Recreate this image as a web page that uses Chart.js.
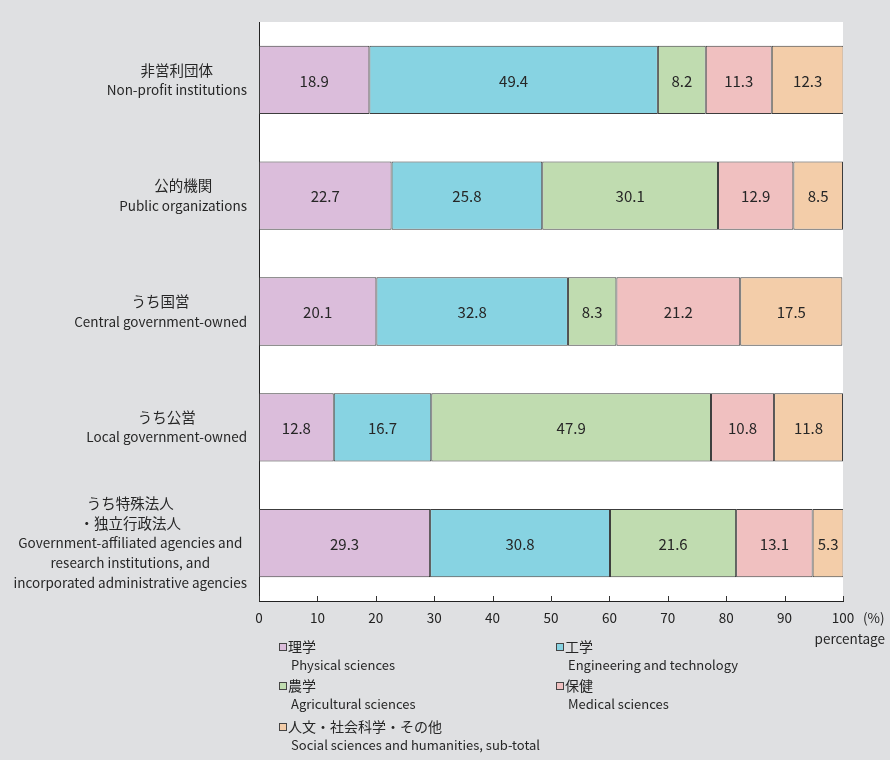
<!DOCTYPE html>
<html>
<head>
<meta charset="utf-8">
<script src="https://cdn.jsdelivr.net/npm/chart.js@4/dist/chart.umd.min.js"></script>
<style>
html,body{margin:0;padding:0;background:#dfe0e2;}
#wrap{position:relative;width:890px;height:760px;}
</style>
</head>
<body>
<div id="wrap"><canvas id="c" width="890" height="760"></canvas></div>
<script>
const categoriesJa = [["非営利団体"],["公的機関"],["うち国営"],["うち公営"],["うち特殊法人","・独立行政法人"]];
const categoriesEn = [["Non-profit institutions"],["Public organizations"],["Central government-owned"],["Local government-owned"],["Government-affiliated agencies and","research institutions, and","incorporated administrative agencies"]];
const seriesJa = ["理学","工学","農学","保健","人文・社会科学・その他"];
const seriesEn = ["Physical sciences","Engineering and technology","Agricultural sciences","Medical sciences","Social sciences and humanities, sub-total"];
const physical = [18.9, 22.7, 20.1, 12.8, 29.3];
const engineering = [49.4, 25.8, 32.8, 16.7, 30.8];
const agricultural = [8.2, 30.1, 8.3, 47.9, 21.6];
const medical = [11.3, 12.9, 21.2, 10.8, 13.1];
const social = [12.3, 8.5, 17.5, 11.8, 5.3];
const xTicks = [0,10,20,30,40,50,60,70,80,90,100];
const colors = ["#dbbddb","#87d3e2","#c0dcb0","#f0c0c0","#f3cda9"];

const FONT = '"Noto Sans CJK JP", "Noto Sans", sans-serif';
const TXT = '#262626';

const seriesValues = [physical, engineering, agricultural, medical, social];
const datasets = seriesValues.map((v,i)=>({
  label: seriesJa[i],
  data: v,
  backgroundColor: colors[i],
  borderColor: '#3c3c3c',
  borderWidth: 1,
  borderSkipped: false,
  barPercentage: 0.59,
  categoryPercentage: 1.0
}));

const customPlugin = {
  id: 'custom',
  afterDatasetsDraw(chart){
    const ctx = chart.ctx;
    ctx.save();
    ctx.font = '15px ' + FONT;
    ctx.fillStyle = TXT;
    ctx.textAlign = 'center';
    ctx.textBaseline = 'middle';
    chart.data.datasets.forEach((ds, di)=>{
      const meta = chart.getDatasetMeta(di);
      meta.data.forEach((bar, j)=>{
        const x = (bar.x + bar.base)/2;
        ctx.fillText(ds.data[j].toFixed(1), x, bar.y + 1);
      });
    });
    ctx.restore();
  },
  afterDraw(chart){
    const ctx = chart.ctx;
    const xs = chart.scales.x, ys = chart.scales.y;
    const area = chart.chartArea;
    ctx.save();
    ctx.strokeStyle = '#333';
    ctx.lineWidth = 1;
    xTicks.forEach(t=>{
      const px = Math.round(xs.getPixelForValue(t)) + 0.5;
      ctx.beginPath();
      ctx.moveTo(px, area.bottom);
      ctx.lineTo(px, area.bottom - 5);
      ctx.stroke();
    });
    ctx.fillStyle = TXT;
    ctx.textBaseline = 'middle';
    ctx.textAlign = 'left';
    ctx.font = '13.5px ' + FONT;
    ctx.fillText('(%)', xs.getPixelForValue(100) + 20, 618);
    ctx.textAlign = 'right';
    ctx.fillText('percentage', 885, 639);
    ys.ticks.forEach((t, i)=>{
      const cy = ys.getPixelForValue(i);
      const lines = [];
      categoriesJa[i].forEach(s=>lines.push({s, f:'14.5px ' + FONT}));
      categoriesEn[i].forEach(s=>lines.push({s, f:'13.5px ' + FONT}));
      let maxW = 0;
      lines.forEach(l=>{ctx.font = l.f; maxW = Math.max(maxW, ctx.measureText(l.s).width);});
      const cx = 247 - maxW/2;
      const lh = 19.8;
      const y0 = cy - (lines.length-1)*lh/2;
      ctx.textAlign = 'center';
      lines.forEach((l,k)=>{
        ctx.font = l.f;
        ctx.fillText(l.s, cx, y0 + k*lh);
      });
    });
    const pos = [[283,647],[560,647],[283,686],[560,686],[283,727]];
    seriesJa.forEach((s,i)=>{
      const [x,y] = pos[i];
      ctx.fillStyle = colors[i];
      ctx.fillRect(x-4, y-4, 7, 7);
      ctx.strokeStyle = '#444';
      ctx.strokeRect(x-3.5, y-3.5, 7, 7);
      ctx.fillStyle = TXT;
      ctx.textAlign = 'left';
      ctx.font = '14px ' + FONT;
      ctx.fillText(s, x+5, y);
      ctx.font = '13px ' + FONT;
      ctx.fillText(seriesEn[i], x+8, y+18);
    });
    ctx.restore();
  }
};

const whiteArea = {
  id: 'whiteArea',
  beforeDraw(chart){
    const {ctx, chartArea:a} = chart;
    ctx.save();
    ctx.fillStyle = '#dfe0e2';
    ctx.fillRect(0,0,chart.width,chart.height);
    ctx.fillStyle = '#ffffff';
    ctx.fillRect(a.left, a.top, a.right-a.left, a.bottom-a.top);
    ctx.restore();
  }
};

new Chart(document.getElementById('c'), {
  type: 'bar',
  data: { labels: categoriesEn.map(l=>l.join(' ')), datasets },
  options: {
    indexAxis: 'y',
    responsive: false,
    animation: false,
    layout: { padding: { left: 0, right: 47, top: 22, bottom: 0 } },
    plugins: { legend: { display: false }, tooltip: { enabled: false } },
    scales: {
      x: {
        stacked: true, min: 0, max: 100,
        afterBuildTicks(scale){ scale.ticks = xTicks.map(v=>({value:v})); },
        afterFit(scale){ scale.height = 159; },
        grid: { display: false, drawTicks: false },
        border: { display: true, color: '#222', width: 1 },
        ticks: { color: '#222', font: { family: FONT, size: 13.5 }, padding: 9, maxRotation: 0 }
      },
      y: {
        stacked: true,
        afterFit(scale){ scale.width = 259; },
        grid: { display: false, drawTicks: false },
        border: { display: true, color: '#222', width: 1 },
        ticks: { display: false }
      }
    }
  },
  plugins: [whiteArea, customPlugin]
});
</script>
</body>
</html>
